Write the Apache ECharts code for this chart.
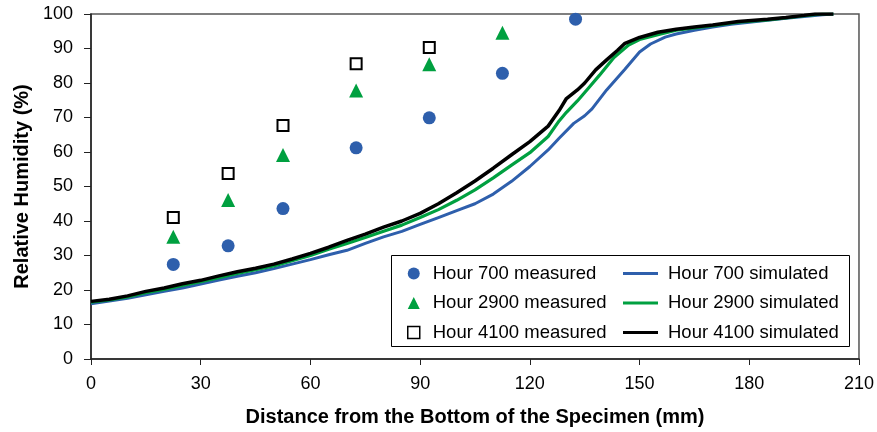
<!DOCTYPE html>
<html>
<head>
<meta charset="utf-8">
<script src="https://cdn.jsdelivr.net/npm/echarts@6/dist/echarts.min.js"></script>
<style>
  html, body { margin: 0; padding: 0; background: #fff; }
  #chart-container { width: 877px; height: 432px; }
</style>
</head>
<body>
<div id="chart-container"></div>
<script>
var dom = document.getElementById("chart-container");
var myChart = echarts.init(dom, null, { renderer: "canvas" });

// measured points (distance mm, RH %)
var meas700 = [[22.5, 27.4], [37.5, 32.8], [52.5, 43.6], [72.5, 61.2], [92.5, 69.9], [112.5, 82.8], [132.5, 98.5]];
var meas2900 = [[22.5, 35.4], [37.5, 46.1], [52.5, 59.1], [72.5, 77.8], [92.5, 85.4], [112.5, 94.6]];
var meas4100 = [[22.5, 41.0], [37.5, 53.8], [52.5, 67.7], [72.5, 85.6], [92.5, 90.3]];

// simulated profiles
var sim700 = [
  [0, 16.0], [5, 16.8], [10, 17.6], [15, 18.6], [20, 19.6], [25, 20.6], [30, 21.7], [35, 22.9],
  [40, 24.0], [45, 25.0], [50, 26.2], [55, 27.5], [60, 28.8], [65, 30.2], [70, 31.5], [75, 33.5],
  [80, 35.4], [85, 37.0], [90, 39.0], [95, 41.0], [100, 43.0], [105, 45.0], [110, 47.8], [115, 51.5],
  [120, 55.8], [125, 60.6], [128, 64.0], [132, 68.3], [135, 70.5], [137, 72.5], [141, 78.0], [146, 84.0],
  [150, 89.0], [153, 91.3], [157, 93.3], [160, 94.2], [165, 95.3], [170, 96.2], [175, 97.0], [180, 97.6],
  [185, 98.2], [190, 98.8], [195, 99.3], [200, 99.8], [203, 100]
];
var sim2900 = [
  [0, 16.5], [5, 17.1], [10, 18.0], [15, 19.2], [20, 20.2], [25, 21.3], [30, 22.4], [35, 23.6],
  [40, 24.8], [45, 25.9], [50, 27.0], [55, 28.5], [60, 30.0], [65, 31.8], [70, 33.5], [75, 35.2],
  [80, 37.0], [85, 38.8], [90, 41.0], [95, 43.3], [100, 46.0], [105, 49.0], [110, 52.5], [115, 56.2],
  [120, 59.8], [125, 64.5], [128, 69.0], [130, 71.5], [133, 74.8], [136, 78.5], [139, 82.2], [143, 87.4],
  [147, 91.0], [150, 92.6], [155, 94.0], [160, 95.3], [165, 96.0], [170, 96.6], [177, 97.6], [185, 98.3],
  [190, 98.9], [195, 99.5], [200, 100], [203, 100]
];
var sim4100 = [
  [0, 16.7], [5, 17.3], [10, 18.3], [15, 19.6], [20, 20.6], [25, 21.8], [30, 22.8], [35, 24.1],
  [40, 25.3], [45, 26.3], [50, 27.5], [55, 29.0], [60, 30.6], [65, 32.4], [70, 34.4], [75, 36.2],
  [80, 38.2], [85, 40.0], [90, 42.2], [95, 45.0], [100, 48.2], [105, 51.6], [110, 55.3], [115, 59.2],
  [120, 63.0], [125, 67.5], [128, 72.0], [130, 75.5], [133, 78.0], [135, 80.0], [138, 83.8], [141, 86.7],
  [144, 89.5], [146, 91.5], [150, 93.2], [155, 94.7], [160, 95.6], [165, 96.2], [170, 96.8], [177, 97.8],
  [185, 98.5], [190, 99.0], [195, 99.6], [198, 100], [203, 100]
];

var xTicks = { min: 0, max: 210, interval: 30 };
var yTicks = { min: 0, max: 100, interval: 10 };

var BLUE = "#2e5fac";
var GREEN = "#00a040";
var BLACK = "#000000";
var FONT = "Liberation Sans, Arial, sans-serif";
var LINE_ICON = "path://M0,0L35,0L35,3L0,3Z";

var option = {
  animation: false,
  backgroundColor: "#fff",
  textStyle: { fontFamily: FONT },
  grid: {
    left: 91,
    right: 15,
    top: 14,
    bottom: 73,
    show: true,
    borderColor: "#555",
    borderWidth: 1.5,
  },
  xAxis: {
    type: "value",
    min: xTicks.min,
    max: xTicks.max,
    interval: xTicks.interval,
    name: "Distance from the Bottom of the Specimen (mm)",
    nameLocation: "middle",
    nameGap: 48,
    nameTextStyle: { fontSize: 20, fontWeight: "bold", color: "#000", fontFamily: FONT },
    axisLine: { lineStyle: { color: "#222", width: 1.5 } },
    axisTick: { show: true, length: 6, lineStyle: { color: "#222" } },
    axisLabel: { fontSize: 18, color: "#000", margin: 16, fontFamily: FONT },
    splitLine: { show: false },
  },
  yAxis: {
    type: "value",
    min: yTicks.min,
    max: yTicks.max,
    interval: yTicks.interval,
    name: "Relative Humidity (%)",
    nameLocation: "middle",
    nameGap: 58,
    nameTextStyle: { fontSize: 20, fontWeight: "bold", color: "#000", fontFamily: FONT },
    axisLine: { show: true, lineStyle: { color: "#222", width: 1.5 } },
    axisTick: { show: true, length: 7, lineStyle: { color: "#222" } },
    axisLabel: { fontSize: 18, color: "#000", margin: 18, fontFamily: FONT },
    splitLine: { show: false },
  },
  graphic: [
    {
      type: "rect",
      left: 391,
      top: 255,
      shape: { width: 458, height: 91 },
      style: { fill: "#fff", stroke: "#000", lineWidth: 1 },
      z: 50,
    },
  ],
  legend: [
    {
      orient: "vertical",
      left: 402,
      top: 259,
      itemWidth: 12,
      itemHeight: 12,
      itemGap: 10.5,
      symbolKeepAspect: true,
      z: 60,
      textStyle: { fontSize: 18.5, color: "#000", fontFamily: FONT, padding: [0, 0, 0, 8] },
      data: [
        { name: "Hour 700 measured", icon: "circle" },
        { name: "Hour 2900 measured", icon: "triangle" },
        { name: "Hour 4100 measured", icon: "rect", itemStyle: { borderWidth: 1.5 } },
      ],
    },
    {
      orient: "vertical",
      left: 618,
      top: 259,
      itemWidth: 35,
      itemHeight: 12,
      itemGap: 10.5,
      symbolKeepAspect: true,
      z: 60,
      textStyle: { fontSize: 18.5, color: "#000", fontFamily: FONT, padding: [0, 0, 0, 5] },
      data: [
        { name: "Hour 700 simulated", icon: LINE_ICON },
        { name: "Hour 2900 simulated", icon: LINE_ICON },
        { name: "Hour 4100 simulated", icon: LINE_ICON },
      ],
    },
  ],
  series: [
    {
      name: "Hour 700 simulated",
      type: "line",
      data: sim700,
      symbol: "none",
      lineStyle: { color: BLUE, width: 3 },
      itemStyle: { color: BLUE },
      z: 2,
    },
    {
      name: "Hour 2900 simulated",
      type: "line",
      data: sim2900,
      symbol: "none",
      lineStyle: { color: GREEN, width: 3.2 },
      itemStyle: { color: GREEN },
      z: 3,
    },
    {
      name: "Hour 4100 simulated",
      type: "line",
      data: sim4100,
      symbol: "none",
      lineStyle: { color: BLACK, width: 3.5 },
      itemStyle: { color: BLACK },
      z: 4,
    },
    {
      name: "Hour 700 measured",
      type: "scatter",
      data: meas700,
      symbol: "circle",
      symbolSize: 13,
      itemStyle: { color: BLUE, opacity: 1 },
      z: 5,
    },
    {
      name: "Hour 2900 measured",
      type: "scatter",
      data: meas2900,
      symbol: "triangle",
      symbolSize: 14,
      itemStyle: { color: GREEN, opacity: 1 },
      z: 5,
    },
    {
      name: "Hour 4100 measured",
      type: "scatter",
      data: meas4100,
      symbol: "rect",
      symbolSize: 11,
      itemStyle: { color: "#fff", borderColor: BLACK, borderWidth: 2, opacity: 1 },
      z: 5,
    },
  ],
};

myChart.setOption(option);
window.addEventListener("resize", myChart.resize);
</script>
</body>
</html>
